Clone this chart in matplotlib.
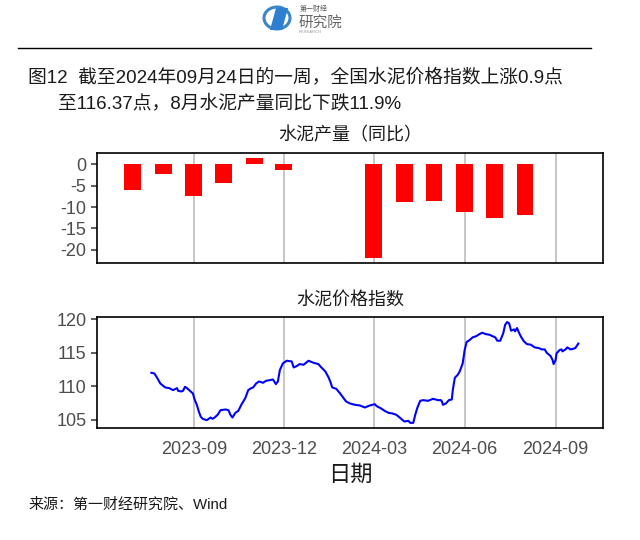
import matplotlib
matplotlib.use("Agg")
import matplotlib.pyplot as plt
import matplotlib.dates as mdates
from matplotlib.patches import Circle, Polygon
import pandas as pd

# ---------------------------------------------------------------------------
# Data
# ---------------------------------------------------------------------------

# monthly cement output, y/y % (Jan-Feb 2024 not published separately)
output_months = ["2023-07-01", "2023-08-01", "2023-09-01", "2023-10-01",
                 "2023-11-01", "2023-12-01", "2024-03-01", "2024-04-01",
                 "2024-05-01", "2024-06-01", "2024-07-01", "2024-08-01"]
output_yoy = [-5.9, -2.3, -7.4, -4.3, 1.6, -1.3,
              -22.0, -8.9, -8.5, -11.1, -12.6, -11.9]

# national cement price index
price_dates = [
    "2023-07-20", "2023-07-23", "2023-07-26", "2023-07-29", "2023-08-03",
    "2023-08-07", "2023-08-11", "2023-08-15", "2023-08-16", "2023-08-19",
    "2023-08-21", "2023-08-23", "2023-08-25", "2023-08-28", "2023-08-31",
    "2023-09-02", "2023-09-04", "2023-09-06", "2023-09-08", "2023-09-10",
    "2023-09-14", "2023-09-18", "2023-09-20", "2023-09-22", "2023-09-25",
    "2023-09-28", "2023-10-03", "2023-10-06", "2023-10-08", "2023-10-10",
    "2023-10-13", "2023-10-16", "2023-10-19", "2023-10-23", "2023-10-26",
    "2023-10-29", "2023-10-31", "2023-11-03", "2023-11-06", "2023-11-10",
    "2023-11-13", "2023-11-17", "2023-11-20", "2023-11-23", "2023-11-25",
    "2023-11-27", "2023-11-30", "2023-12-04", "2023-12-09", "2023-12-11",
    "2023-12-14", "2023-12-17", "2023-12-21", "2023-12-26", "2023-12-31",
    "2024-01-05", "2024-01-08", "2024-01-12", "2024-01-15", "2024-01-17",
    "2024-01-19", "2024-01-23", "2024-01-27", "2024-01-30", "2024-02-02",
    "2024-02-06", "2024-02-11", "2024-02-16", "2024-02-21", "2024-02-26",
    "2024-03-02", "2024-03-04", "2024-03-08", "2024-03-12", "2024-03-16",
    "2024-03-20", "2024-03-24", "2024-03-28", "2024-04-01", "2024-04-05",
    "2024-04-07", "2024-04-10", "2024-04-12", "2024-04-14", "2024-04-17",
    "2024-04-20", "2024-04-25", "2024-04-30", "2024-05-05", "2024-05-08",
    "2024-05-09", "2024-05-10", "2024-05-13", "2024-05-16", "2024-05-19",
    "2024-05-20", "2024-05-22", "2024-05-23", "2024-05-25", "2024-05-27",
    "2024-05-30", "2024-06-01", "2024-06-03", "2024-06-06", "2024-06-09",
    "2024-06-13", "2024-06-16", "2024-06-19", "2024-06-22", "2024-06-26",
    "2024-06-29", "2024-07-02", "2024-07-04", "2024-07-07", "2024-07-10",
    "2024-07-12", "2024-07-14", "2024-07-16", "2024-07-18", "2024-07-21",
    "2024-07-22", "2024-07-24", "2024-07-26", "2024-07-28", "2024-07-31",
    "2024-08-03", "2024-08-07", "2024-08-11", "2024-08-15", "2024-08-18",
    "2024-08-21", "2024-08-23", "2024-08-27", "2024-08-29", "2024-08-30",
    "2024-09-01", "2024-09-02", "2024-09-05", "2024-09-07", "2024-09-08",
    "2024-09-11", "2024-09-13", "2024-09-16", "2024-09-19", "2024-09-21",
    "2024-09-24",
]
price_index = [
    112.0, 111.9, 111.2, 110.4, 109.8,
    109.7, 109.4, 109.7, 109.3, 109.2,
    109.3, 109.9, 109.7, 109.3, 108.9,
    107.9, 107.2, 106.2, 105.4, 105.1,
    104.9, 105.3, 105.1, 105.3, 105.7,
    106.4, 106.5, 106.4, 105.7, 105.3,
    106.0, 106.3, 107.2, 108.2, 109.4,
    109.7, 109.8, 110.4, 110.7, 110.5,
    110.8, 110.9, 111.0, 110.3, 110.7,
    112.4, 113.4, 113.8, 113.7, 112.8,
    113.0, 113.3, 113.2, 113.8, 113.5,
    113.3, 112.8, 112.2, 111.4, 110.7,
    109.8, 109.6, 108.9, 108.3, 107.7,
    107.4, 107.2, 107.1, 106.8, 107.1,
    107.3, 107.0, 106.7, 106.3, 106.0,
    105.9, 105.7, 105.2, 104.7, 104.8,
    104.5, 104.5, 105.7, 106.7, 107.8,
    107.9, 107.8, 108.1, 107.9, 107.9,
    107.7, 107.2, 107.4, 107.9, 108.0,
    109.4, 111.2, 111.4, 111.7, 112.2,
    113.4, 115.4, 116.6, 116.9, 117.3,
    117.5, 117.8, 118.0, 117.8, 117.7,
    117.5, 117.3, 116.8, 116.8, 117.9,
    119.2, 119.6, 119.4, 118.3, 118.5,
    118.2, 118.7, 118.0, 117.4, 116.7,
    116.3, 116.2, 115.8, 115.7, 115.5,
    115.5, 115.0, 114.5, 113.9, 113.3,
    113.9, 114.9, 115.4, 115.5, 115.2,
    115.5, 115.8, 115.5, 115.6, 115.7,
    116.37,
]

tick_dates = ["2023-09-01", "2023-12-01", "2024-03-01", "2024-06-01", "2024-09-01"]

TITLE_1 = "图12  截至2024年09月24日的一周，全国水泥价格指数上涨0.9点"
TITLE_2 = "至116.37点，8月水泥产量同比下跌11.9%"
SOURCE = "来源：第一财经研究院、Wind"

# ---------------------------------------------------------------------------
# Figure
# ---------------------------------------------------------------------------

FONTS = ["Liberation Sans", "Noto Sans CJK SC", "DejaVu Sans"]
plt.rcParams["font.family"] = FONTS
plt.rcParams["axes.unicode_minus"] = False

C_TXT, C_GRID = "#4d4d4d", "#bebebe"

months = pd.to_datetime(output_months)
pdates = pd.to_datetime(price_dates)
ticks = pd.to_datetime(tick_dates)
xlim = (pd.Timestamp("2023-05-26"), pd.Timestamp("2024-10-19"))

fig = plt.figure(figsize=(6.4, 5.4), dpi=100)
ax1 = fig.add_axes([0.1516, 0.5130, 0.7906, 0.2037])
ax2 = fig.add_axes([0.1516, 0.2083, 0.7906, 0.2046])

ax1.bar(months, output_yoy, width=17, color="#ff0000", zorder=3)
ax1.set_ylim(-23.1, 2.7)
ax1.set_yticks([0, -5, -10, -15, -20])
ax1.set_title("水泥产量（同比）", fontsize=13, color="#1a1a1a", pad=9)

ax2.plot(pdates, price_index, color="#0000ff", linewidth=1.5, zorder=3)
ax2.set_ylim(103.8, 120.35)
ax2.set_yticks([105, 110, 115, 120])
ax2.set_title("水泥价格指数", fontsize=13, color="#1a1a1a", pad=9)
ax2.set_xlabel("日期", fontsize=16, color="#1a1a1a", labelpad=5)

for ax in (ax1, ax2):
    ax.set_xlim(xlim)
    ax.set_xticks(ticks)
    ax.xaxis.set_major_formatter(mdates.DateFormatter("%Y-%m"))
    ax.grid(axis="x", color=C_GRID, linewidth=1.2)
    ax.set_axisbelow(True)
    for s in ax.spines.values():
        s.set_linewidth(1.2)
        s.set_color("black")
    ax.tick_params(axis="y", labelsize=13, colors=C_TXT, length=4, width=1.1)
    ax.tick_params(axis="y", color="#333333")
    ax.tick_params(axis="x", labelsize=13, colors=C_TXT, length=0, pad=9.5)

ax1.tick_params(axis="x", labelbottom=False)

# header: logo and rule
fig.add_artist(Circle((277 / 640, 1 - 18 / 540), 13 / 640, transform=fig.transFigure,
                      fill=False, edgecolor="#3a86c8", linewidth=2.2))
fig.add_artist(Polygon([(270 / 640, 1 - 30 / 540), (276 / 640, 1 - 8 / 540),
                        (288 / 640, 1 - 8 / 540), (282 / 640, 1 - 30 / 540)],
                       closed=True, transform=fig.transFigure,
                       facecolor="#2f7fd0", edgecolor="none"))
fig.text(300 / 640, 1 - 9 / 540, "第一财经", fontsize=5, color="#555555",
         va="center", ha="left")
fig.text(299 / 640, 1 - 22.5 / 540, "研究院", fontsize=10.5, color="#666666",
         va="center", ha="left")
fig.text(299 / 640, 1 - 32 / 540, "RESEARCH", fontsize=3, color="#999999",
         va="center", ha="left")
fig.add_artist(plt.Line2D([18 / 640, 591 / 640], [1 - 47.5 / 540, 1 - 47.5 / 540],
                          transform=fig.transFigure, color="black", linewidth=1))

fig.text(28 / 640, 1 - 77 / 540, TITLE_1, fontsize=13.5, color="#1a1a1a",
         va="center", ha="left")
fig.text(58 / 640, 1 - 104 / 540, TITLE_2, fontsize=13.5, color="#1a1a1a",
         va="center", ha="left")
fig.text(28 / 640, 1 - 505 / 540, SOURCE, fontsize=10.8, color="#1a1a1a",
         va="center", ha="left")

fig.savefig("out.png", dpi=100, facecolor="white")
